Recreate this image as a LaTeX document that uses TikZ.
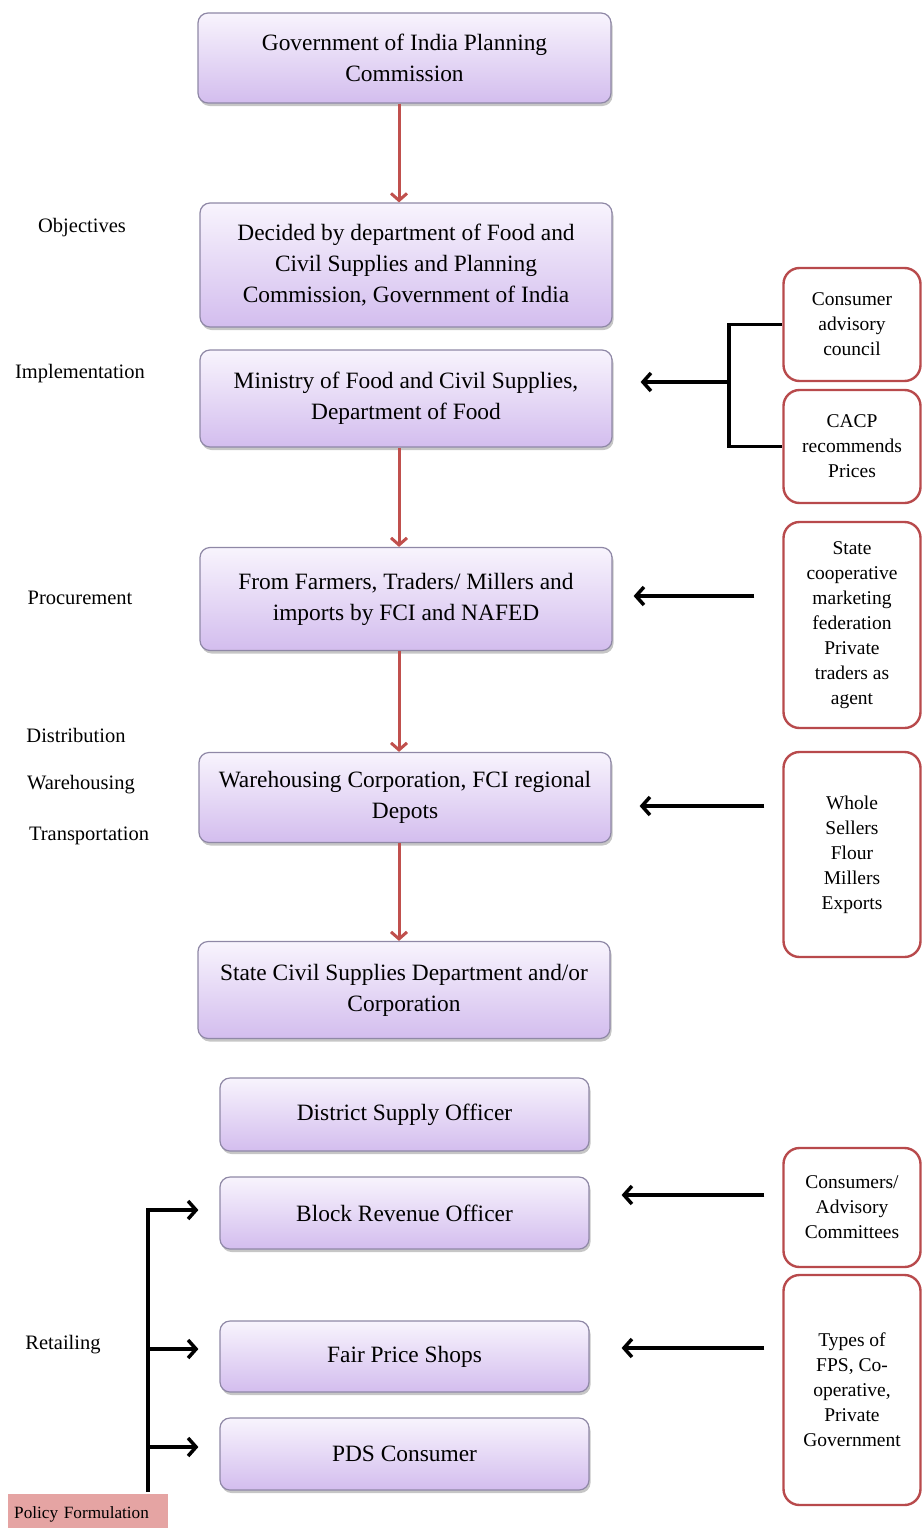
\documentclass[tikz,border=0pt]{standalone}
\usepackage{fontspec}
\setmainfont{Liberation Serif}
\usetikzlibrary{arrows.meta,shadows}

\definecolor{boxtop}{HTML}{F8F4FD}
\definecolor{boxbottom}{HTML}{D3BDEE}
\definecolor{boxline}{HTML}{8F88A6}
\definecolor{flowred}{HTML}{C0504D}
\definecolor{sidered}{HTML}{B84A4C}
\definecolor{policyfill}{HTML}{E5A4A3}

\tikzset{
  stage/.style={draw=boxline, line width=1.2pt, rounded corners=10pt,
    top color=boxtop, bottom color=boxbottom,
    drop shadow={shadow xshift=1.5pt, shadow yshift=-3pt, opacity=0.45},
    align=center, inner sep=0pt, font=\fontsize{23.4}{31}\selectfont},
  side/.style={draw=sidered, line width=2.4pt, rounded corners=16pt, fill=white,
    minimum width=137pt, align=center, inner sep=0pt,
    font=\fontsize{19.5}{25}\selectfont},
  phase/.style={inner sep=0pt, font=\fontsize{20.5}{25}\selectfont},
  flow/.style={draw=flowred, line width=3pt,
    -{Straight Barb[length=7pt,width=16pt,line width=3pt]}},
  feed/.style={draw=black, line width=3.5pt,
    -{Straight Barb[length=8pt,width=18pt,line width=3.5pt]}},
}

\begin{document}
\begin{tikzpicture}[x=1pt,y=1pt,yscale=-1,xscale=1]
\useasboundingbox (0,0) rectangle (923,1528);

% Main chain
\node[stage, minimum width=413pt, minimum height=90pt] (planning) at (404.5,58) {Government of India Planning\\Commission};
\node[stage, minimum width=412pt, minimum height=124pt] (decided) at (406,265) {Decided by department of Food and\\Civil Supplies and Planning\\Commission, Government of India};
\node[stage, minimum width=412pt, minimum height=97pt] (ministry) at (406,398.5) {Ministry of Food and Civil Supplies,\\Department of Food};
\node[stage, minimum width=412pt, minimum height=103pt] (procure) at (406,599) {From Farmers, Traders/ Millers and\\imports by FCI and NAFED};
\node[stage, minimum width=412pt, minimum height=90pt] (depots) at (405,797.5) {Warehousing Corporation, FCI regional\\Depots};
\node[stage, minimum width=412pt, minimum height=97pt] (statecivil) at (404,990) {State Civil Supplies Department and/or\\Corporation};
\node[stage, minimum width=369pt, minimum height=73pt] (district) at (404.5,1114.5) {District Supply Officer};
\node[stage, minimum width=369pt, minimum height=72pt] (block) at (404.5,1213) {Block Revenue Officer};
\node[stage, minimum width=369pt, minimum height=71pt] (fps) at (404.5,1356.5) {Fair Price Shops};
\node[stage, minimum width=369pt, minimum height=72pt] (pds) at (404.5,1454) {PDS Consumer};

% Side boxes
\node[side, minimum height=113pt] (council) at (852,324.5) {Consumer\\advisory\\council};
\node[side, minimum height=113pt] (cacp) at (852,446.5) {CACP\\recommends\\Prices};
\node[side, minimum height=206pt] (statecoop) at (852,625) {State\\cooperative\\marketing\\federation\\Private\\traders as\\agent};
\node[side, minimum height=205pt] (sellers) at (852,854.5) {Whole\\Sellers\\Flour\\Millers\\Exports};
\node[side, minimum height=119pt] (committees) at (852,1207.5) {Consumers/\\Advisory\\Committees};
\node[side, minimum height=230pt] (fpstypes) at (852,1390) {Types of\\FPS, Co-\\operative,\\Private\\Government};

% Phase labels
\node[phase] (objectives) at (82,228) {Objectives};
\node[phase] (implementation) at (80,374) {Implementation};
\node[phase] (procurement) at (80,598) {Procurement};
\node[phase] (distribution) at (76,735) {Distribution};
\node[phase] (warehousing) at (81,785) {Warehousing};
\node[phase] (transportation) at (89,836) {Transportation};
\node[phase] (retailing) at (63,1345) {Retailing};

% Policy box
\node[fill=policyfill, anchor=west, text width=148pt, inner xsep=6pt, inner ysep=0pt,
  minimum height=40pt, align=left, font=\fontsize{17.2}{20}\selectfont] (policy) at (8,1514) {Policy Formulation};

% Red arrows down the chain
\coordinate (axis) at (399,0);
\draw[flow] (axis |- planning.south) -- (axis |- decided.north);
\draw[flow] (axis |- ministry.south) -- (axis |- procure.north);
\draw[flow] (axis |- procure.south) -- (axis |- depots.north);
\draw[flow] (axis |- depots.south) -- (axis |- statecivil.north);

% Bracket from council and CACP
\coordinate (join) at (729,382);
\draw[line width=3.5pt] (council.west) -- (council.west -| join) -- (cacp.west -| join) -- (cacp.west);
\draw[feed, shorten >=28pt] (join) -- (join -| ministry.east);

% Side arrows
\coordinate (row3) at (0,596);
\coordinate (row4) at (0,806);
\coordinate (row8) at (0,1195);
\coordinate (row9) at (0,1348);
\draw[feed, shorten <=28pt, shorten >=21pt] (statecoop.west |- row3) -- (procure.east |- row3);
\draw[feed, shorten <=18pt, shorten >=28pt] (sellers.west |- row4) -- (depots.east |- row4);
\draw[feed, shorten <=18pt, shorten >=32pt] (committees.west |- row8) -- (block.east |- row8);
\draw[feed, shorten <=18pt, shorten >=32pt] (fpstypes.west |- row9) -- (fps.east |- row9);

% Retailing spine
\coordinate (spinebot) at (148,1492);
\coordinate (rowb) at (0,1210);
\coordinate (rowf) at (0,1349);
\coordinate (rowp) at (0,1447);
\draw[feed, shorten >=21pt] (spinebot) -- (spinebot |- rowb) -- (block.west |- rowb);
\draw[feed, shorten >=21pt] (spinebot |- rowf) -- (fps.west |- rowf);
\draw[feed, shorten >=21pt] (spinebot |- rowp) -- (pds.west |- rowp);

\end{tikzpicture}
\end{document}
